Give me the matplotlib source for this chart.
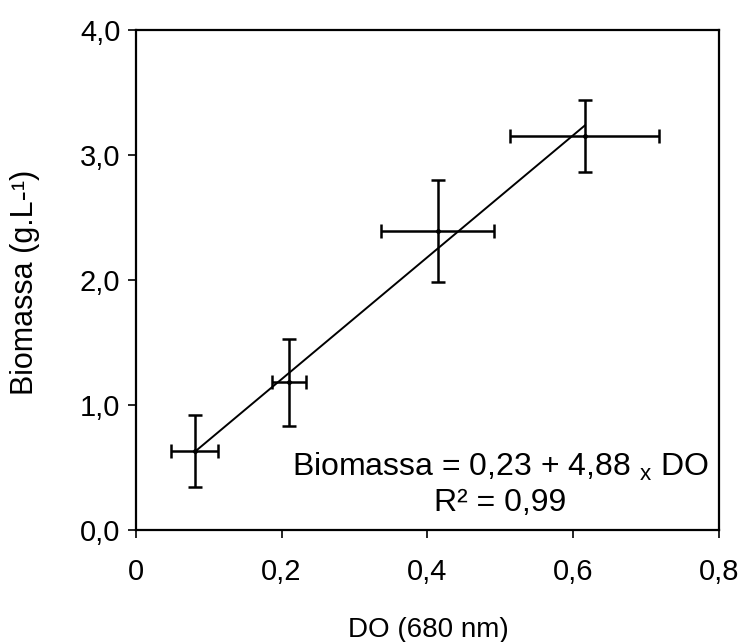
import numpy as np
import matplotlib
matplotlib.use("Agg")
import matplotlib.pyplot as plt
from matplotlib.ticker import FixedLocator, FuncFormatter

# Data
do = [0.081, 0.210, 0.414, 0.616]        # DO (680 nm)
do_err = [0.032, 0.023, 0.077, 0.102]
bio = [0.63, 1.18, 2.39, 3.15]           # Biomassa (g/L)
bio_err = [0.29, 0.35, 0.41, 0.29]

# Regression coefficients shown on the chart
intercept = 0.23
slope = 4.88

x_ticks = [0, 0.2, 0.4, 0.6, 0.8]
y_ticks = [0, 1, 2, 3, 4]

plt.rcParams['font.family'] = ['Liberation Sans', 'DejaVu Sans']

fig = plt.figure(figsize=(7.44, 6.42), dpi=100)
ax = fig.add_axes([0.1824, 0.1745, 0.7840, 0.7788])

ax.errorbar(do, bio, xerr=do_err, yerr=bio_err, fmt='o', color='black',
            markersize=2.5, elinewidth=1.8, capsize=5, capthick=1.8)

# Fitted line between first and last points
xf = np.array([do[0], do[-1]])
ax.plot(xf, intercept + slope * xf, color='black', lw=1.4)

ax.set_xlim(0, 0.8)
ax.set_ylim(0, 4)
ax.xaxis.set_major_locator(FixedLocator(x_ticks))
ax.yaxis.set_major_locator(FixedLocator(y_ticks))
ax.xaxis.set_major_formatter(FuncFormatter(
    lambda v, p: '0' if v == 0 else f"{v:.1f}".replace('.', ',')))
ax.yaxis.set_major_formatter(FuncFormatter(
    lambda v, p: f"{v:.1f}".replace('.', ',')))

for s in ax.spines.values():
    s.set_linewidth(1.6)
ax.tick_params(direction='out', length=6, width=1.2, labelsize=21,
               top=False, right=False)
ax.tick_params(axis='x', pad=14)
ax.tick_params(axis='y', pad=5)

# axis labels placed by hand to match the original layout
fig.text(428 / 744, 1 - 630 / 642, 'DO (680 nm)', fontsize=20,
         ha='center', va='center')
fig.text(25 / 744, 1 - 282 / 642, 'Biomassa (g.L-¹)', fontsize=22,
         rotation=90, ha='center', va='center')

ax.text(0.6246, 0.126, 'Biomassa = 0,23 + 4,88 $_{\\mathregular{x}}$ DO',
        transform=ax.transAxes, ha='center', va='center', fontsize=23)
ax.text(0.6246, 0.054, 'R² = 0,99', transform=ax.transAxes,
        ha='center', va='center', fontsize=23)

fig.savefig('out.png', dpi=100)
